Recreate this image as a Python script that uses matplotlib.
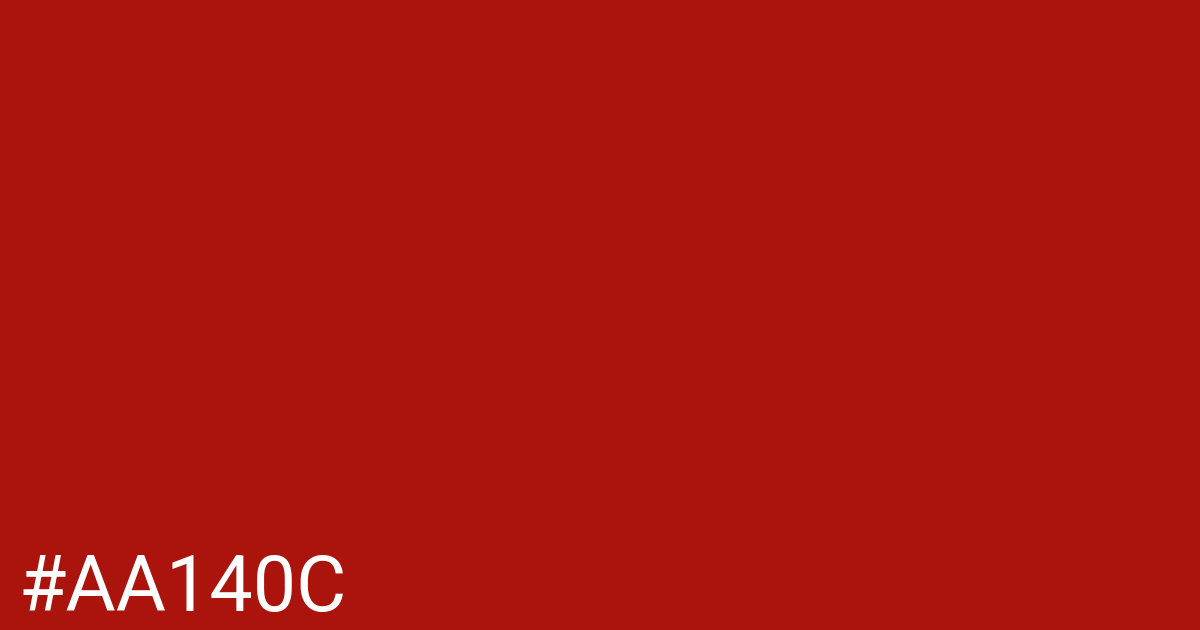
import matplotlib
matplotlib.use("Agg")
import matplotlib.pyplot as plt

# swatch colour and its label
color_hex = "#AA140C"
label = color_hex

W, H, dpi = 1200, 630, 100

fig = plt.figure(figsize=(W / dpi, H / dpi), dpi=dpi)
fig.patch.set_facecolor(color_hex)

# label in the lower left corner (pixel coords from bottom)
fig.text(18.5 / W, (H - 611) / H, label, color="white",
         family=["Roboto", "DejaVu Sans"], fontsize=55.5,
         ha="left", va="baseline")

fig.savefig("out.png", dpi=dpi, facecolor=fig.get_facecolor())
